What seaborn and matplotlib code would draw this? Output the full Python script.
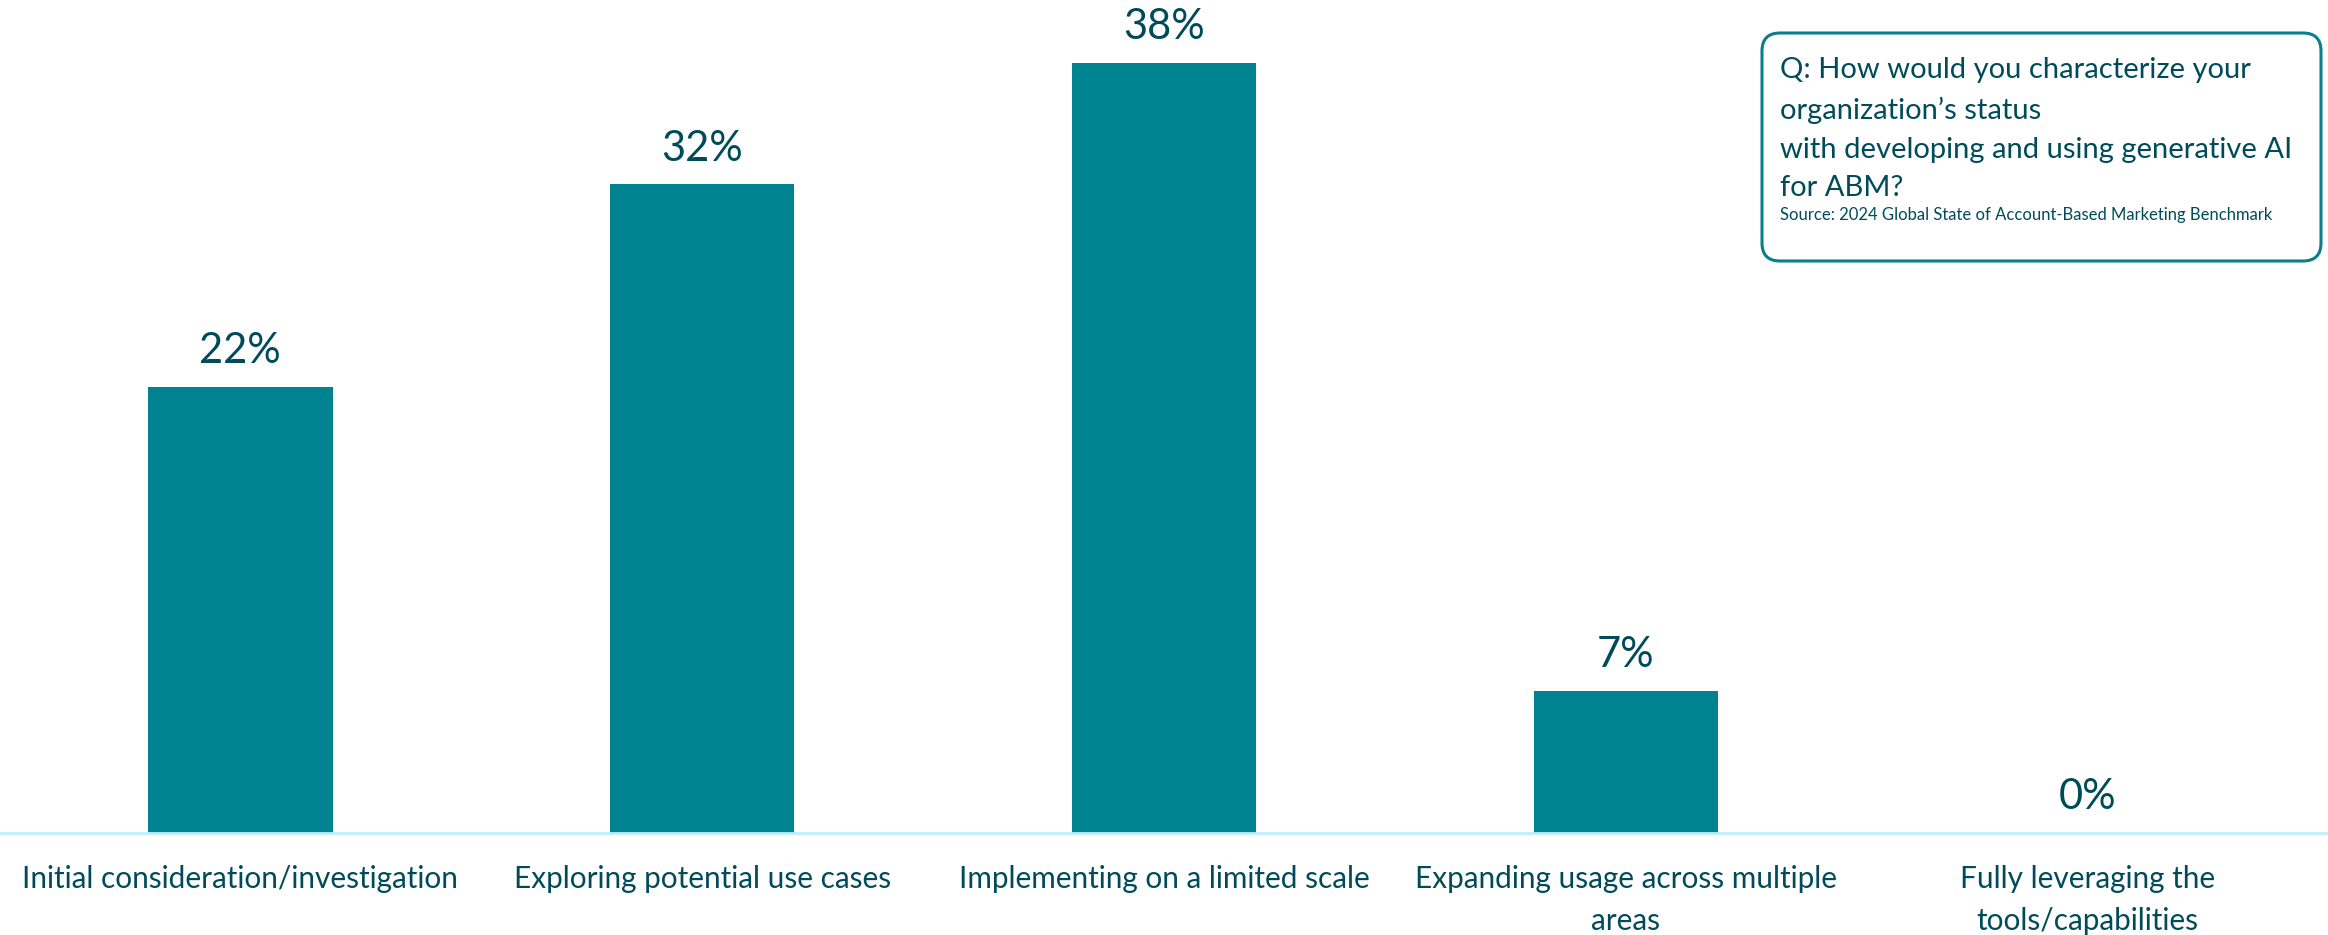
import matplotlib
matplotlib.use("Agg")
import matplotlib.pyplot as plt
import seaborn as sns
import pandas as pd
from matplotlib.patches import FancyBboxPatch
from matplotlib.transforms import IdentityTransform

categories = [
    "Initial consideration/investigation",
    "Exploring potential use cases",
    "Implementing on a limited scale",
    "Expanding usage across multiple\nareas",
    "Fully leveraging the\ntools/capabilities",
]
values = [22, 32, 38, 7, 0]
value_labels = ["22%", "32%", "38%", "7%", "0%"]

question_lines = [
    "Q: How would you characterize your",
    "organization\u2019s status",
    "with developing and using generative AI",
    "for ABM?",
]
source_text = "Source: 2024 Global State of Account-Based Marketing Benchmark"

BAR = "#008391"
TXT = "#004B5A"
AXIS = "#BFEFF7"

sns.set_theme(style="white")
plt.rcParams["font.family"] = ["Lato", "DejaVu Sans"]

W, H, DPI = 2328, 935, 100
fig = plt.figure(figsize=(W / DPI, H / DPI), dpi=DPI)
ax = fig.add_axes([0, 102 / H, 1, 1 - 102 / H])

df = pd.DataFrame({"cat": categories, "val": values})
sns.barplot(data=df, x="cat", y="val", color=BAR, width=0.4, ax=ax,
            saturation=1, edgecolor="none")

ax.set_xlim(-0.52, 4.52)
ax.set_ylim(0, 41.1)
ax.set_xlabel("")
ax.set_ylabel("")
ax.set_yticks([])
for s in ["top", "right", "left"]:
    ax.spines[s].set_visible(False)
ax.spines["bottom"].set_color(AXIS)
ax.spines["bottom"].set_linewidth(2)
ax.tick_params(axis="x", length=0, pad=23, labelsize=21.4, labelcolor=TXT)
for lab in ax.get_xticklabels():
    lab.set_linespacing(1.6)

for i, (v, t) in enumerate(zip(values, value_labels)):
    ax.annotate(t, (i, v), xytext=(0, 12), textcoords="offset points",
                ha="center", va="bottom", fontsize=30, color=TXT)

# question box
x0, y0, x1, y1 = 1762, 33, 2321, 261
box = FancyBboxPatch((x0, H - y1), x1 - x0, y1 - y0,
                     boxstyle="round,pad=0,rounding_size=18",
                     transform=IdentityTransform(), facecolor="white",
                     edgecolor="#0A7F8C", linewidth=2.2)
fig.add_artist(box)
ys = [70, 110, 150, 188]
for yy, line in zip(ys, question_lines):
    fig.text(1780 / W, 1 - yy / H, line, ha="left", va="center",
             fontsize=21, color=TXT)
fig.text(1780 / W, 1 - 215 / H, source_text, ha="left", va="center",
         fontsize=12, color=TXT)

fig.savefig("out.png", dpi=DPI)
